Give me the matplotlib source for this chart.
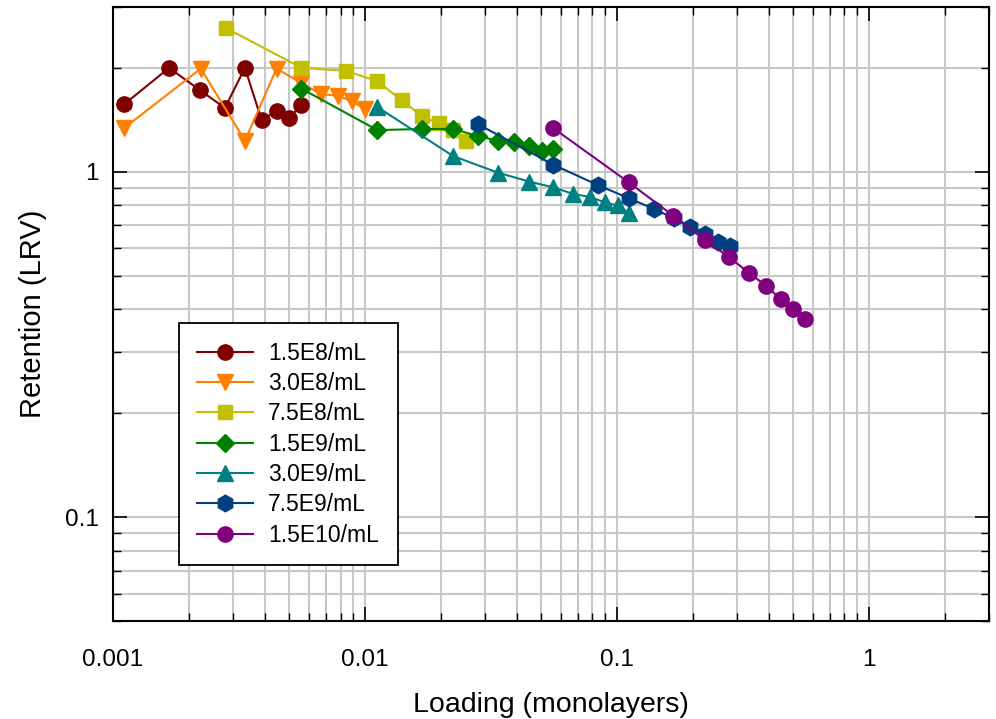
import numpy as np
import matplotlib
matplotlib.use("Agg")
import matplotlib.pyplot as plt
from matplotlib.ticker import LogLocator, NullFormatter, FixedLocator, FixedFormatter

plt.rcParams['font.family'] = ['Liberation Sans', 'DejaVu Sans']

# Dados (Loading x Retention)
x_15e8 = [0.00111, 0.00167, 0.00222, 0.00278, 0.00334, 0.00389, 0.00446, 0.00501, 0.00557]
y_15e8 = [1.57, 2.0, 1.72, 1.53, 2.0, 1.41, 1.50, 1.43, 1.56]

x_30e8 = [0.00111, 0.00223, 0.00334, 0.00446, 0.00557, 0.00668, 0.0078, 0.00891, 0.01002]
y_30e8 = [1.34, 1.99, 1.23, 1.99, 1.81, 1.68, 1.66, 1.60, 1.52]

x_75e8 = [0.0028, 0.0056, 0.0084, 0.0112, 0.014, 0.0168, 0.0196, 0.0224, 0.0252]
y_75e8 = [2.61, 2.0, 1.96, 1.83, 1.61, 1.45, 1.38, 1.32, 1.23]

x_15e9 = [0.0056, 0.0112, 0.0168, 0.0224, 0.028, 0.0336, 0.0392, 0.0448, 0.0504, 0.056]
y_15e9 = [1.74, 1.32, 1.33, 1.33, 1.27, 1.23, 1.22, 1.19, 1.145, 1.16]

x_30e9 = [0.0112, 0.0224, 0.0336, 0.0448, 0.056, 0.0672, 0.0784, 0.0896, 0.1008, 0.112]
y_30e9 = [1.54, 1.11, 0.995, 0.937, 0.901, 0.862, 0.845, 0.815, 0.799, 0.759]

x_75e9 = [0.028, 0.056, 0.084, 0.112, 0.14, 0.168, 0.196, 0.224, 0.252, 0.28]
y_75e9 = [1.375, 1.048, 0.915, 0.837, 0.781, 0.734, 0.694, 0.661, 0.628, 0.611]

x_15e10 = [0.0558, 0.1116, 0.1674, 0.2232, 0.279, 0.3348, 0.3906, 0.4464, 0.5022, 0.558]
y_15e10 = [1.339, 0.931, 0.746, 0.635, 0.566, 0.509, 0.468, 0.428, 0.400, 0.375]

series = [
    (x_15e8, y_15e8, "1.5E8/mL", "#800000", "o", 11),
    (x_30e8, y_30e8, "3.0E8/mL", "#FF8000", "v", 11),
    (x_75e8, y_75e8, "7.5E8/mL", "#C0C000", "s", 10),
    (x_15e9, y_15e9, "1.5E9/mL", "#008000", "D", 9.5),
    (x_30e9, y_30e9, "3.0E9/mL", "#008080", "^", 11),
    (x_75e9, y_75e9, "7.5E9/mL", "#004080", "h", 12),
    (x_15e10, y_15e10, "1.5E10/mL", "#800080", "o", 11),
]

fig = plt.figure(figsize=(9.96, 7.19), dpi=100)
ax = fig.add_axes([113 / 996, 1 - 621 / 719, 876 / 996, 614 / 719])

for xs, ys, lab, cor, mk, ms in series:
    ax.plot(xs, ys, color=cor, marker=mk, markersize=ms, linewidth=1.5,
            markeredgecolor=cor, label=lab)

ax.set_xscale("log")
ax.set_yscale("log")
ax.set_xlim(0.001, 3)
ax.set_ylim(0.05, 3)

# Ticks e grade
ax.xaxis.set_major_locator(FixedLocator([0.001, 0.01, 0.1, 1]))
ax.xaxis.set_major_formatter(FixedFormatter(["0.001", "0.01", "0.1", "1"]))
ax.xaxis.set_minor_locator(LogLocator(base=10, subs=np.arange(2, 10), numticks=20))
ax.xaxis.set_minor_formatter(NullFormatter())
ax.yaxis.set_major_locator(FixedLocator([0.1, 1]))
ax.yaxis.set_major_formatter(FixedFormatter(["0.1", "1"]))
ax.yaxis.set_minor_locator(LogLocator(base=10, subs=np.arange(2, 10), numticks=20))
ax.yaxis.set_minor_formatter(NullFormatter())

ax.tick_params(which="both", direction="in", top=True, right=True, labelsize=17.5)
ax.tick_params(axis="x", pad=20)
ax.tick_params(axis="y", pad=10)
ax.tick_params(which="major", length=10, width=1.2)
ax.tick_params(which="minor", length=6, width=1.0)
ax.grid(True, which="both", color="#c8c8c8", linewidth=1.5)
ax.set_axisbelow(True)
for s in ax.spines.values():
    s.set_linewidth(1.5)

ax.set_xlabel("Loading (monolayers)", fontsize=20.5, labelpad=15)
ax.set_ylabel("Retention (LRV)", fontsize=21, labelpad=13)

leg = ax.legend(loc="lower left", bbox_to_anchor=(0.0753, 0.0912), fontsize=16.5,
                frameon=True, fancybox=False, edgecolor="black", framealpha=1,
                handlelength=2.45, handletextpad=0.65, labelspacing=0.32,
                borderpad=0.8, borderaxespad=0)
leg.get_frame().set_linewidth(1.3)

plt.savefig("out.png", dpi=100)
plt.close()
